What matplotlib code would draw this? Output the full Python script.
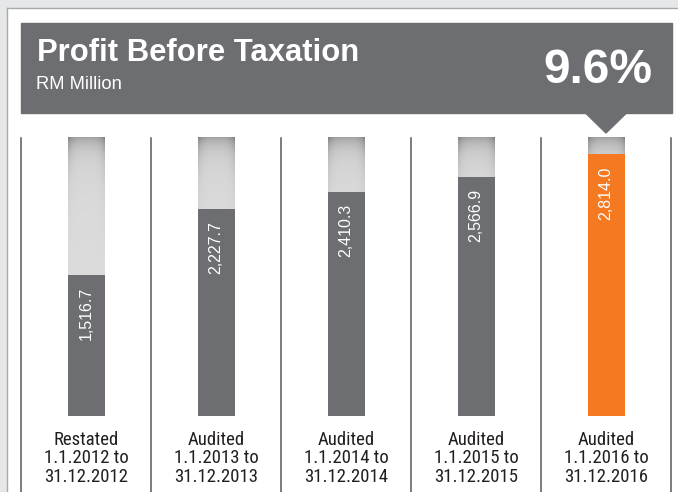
import matplotlib
matplotlib.use("Agg")
import matplotlib.pyplot as plt
import numpy as np
from matplotlib.patches import Rectangle, Polygon
import matplotlib.transforms as mtrans

# data
status = ["Restated", "Audited", "Audited", "Audited", "Audited"]
start = ["1.1.2012", "1.1.2013", "1.1.2014", "1.1.2015", "1.1.2016"]
end = ["31.12.2012", "31.12.2013", "31.12.2014", "31.12.2015", "31.12.2016"]
profit = [1516.7, 2227.7, 2410.3, 2566.9, 2814.0]
scale_max = 3000

grey = "#6d6e71"
orange = "#f47920"
W, H = 678, 492

plt.rcParams['font.family'] = ['Liberation Sans', 'DejaVu Sans']

fig = plt.figure(figsize=(W / 100, H / 100), dpi=100)
fig.patch.set_facecolor("white")

def px(x0, y0, w, h, **kw):
    # rectangle in pixel coords, y measured from top
    return Rectangle((x0 / W, 1 - (y0 + h) / H), w / W, h / H,
                     transform=fig.transFigure, **kw)

# page frame
fig.patches.append(px(0, 0, W, 7, color="#e6e7e8", zorder=0))
fig.patches.append(px(0, 0, 6, H, color="#e6e7e8", zorder=0))
fig.add_artist(plt.Line2D([6.5 / W, 6.5 / W], [0, 1 - 7.5 / H], transform=fig.transFigure, color="#a7a9ac", lw=1))
fig.add_artist(plt.Line2D([6.5 / W, 1], [1 - 7.5 / H, 1 - 7.5 / H], transform=fig.transFigure, color="#a7a9ac", lw=1))

# header box
fig.patches.append(px(21, 23, 651, 90, color=grey, zorder=1))
fig.text(37 / W, 1 - 61 / H, "Profit Before Taxation", color="white",
         fontsize=22.3, fontweight="bold", va="baseline")
fig.text(36 / W, 1 - 89 / H, "RM Million", color="white", fontsize=13.2, va="baseline")
growth = (profit[-1] / profit[-2] - 1) * 100
fig.text(652 / W, 1 - 83 / H, f"{growth:.1f}%", color="white", fontsize=34.5,
         fontweight="bold", ha="right", va="baseline")

# bar axes: 5 columns of 130 px between x=21 and x=671, bars from y=416 up to y=137
ax = fig.add_axes([21 / W, (H - 416) / H, 650 / W, 279 / H])
ax.set_axis_off()
x = np.arange(len(profit))
bw = 37 / 130

# shaded background columns
ny, nx = 280, 40
t = np.arange(ny)[:, None]
u = np.linspace(-1, 1, nx)[None, :]
shade = (0.864 - 0.18 * np.exp(-t / 10) - 0.14 * np.abs(u) ** 4 * np.exp(-t / 35)
         - 0.04 * np.exp(-t / 50))
img = np.clip(np.repeat(shade[:, :, None], 3, axis=2), 0, 1)
for xi in x:
    ax.imshow(img, extent=[xi - bw / 2, xi + bw / 2, 0, scale_max], aspect="auto",
              origin="upper", interpolation="bilinear", zorder=1)

colors = [grey] * (len(profit) - 1) + [orange]
ax.bar(x, profit, width=bw, color=colors, zorder=2)

for xi, v in zip(x, profit):
    ax.annotate(f"{v:,.1f}", xy=(xi, v), xytext=(0, -8.6), textcoords="offset points",
                rotation=90, ha="center", va="top", color="white", fontsize=11.5, zorder=3)
    ax.annotate(f"{status[xi]}\n{start[xi]} to\n{end[xi]}", xy=(xi, 0), xytext=(0, -10.5),
                textcoords="offset points", ha="center", va="top", color="#231f20",
                fontsize=13.5, linespacing=1.06, annotation_clip=False,
                family=['Roboto Condensed', 'Liberation Sans'])

ax.set_xlim(-0.5, len(profit) - 0.5)
ax.set_ylim(0, scale_max)

# column separators
for b in np.arange(-0.5, len(profit), 1.0):
    ax.axvline(b, ymin=-76 / 279, ymax=278 / 279, color="#58595b", lw=1.1, clip_on=False, zorder=0)

# pointer under header, aimed at the latest year
trans = mtrans.blended_transform_factory(ax.transData, fig.transFigure)
xl = x[-1]
half = 21 / 130
tri = Polygon([[xl - half, 1 - 112.5 / H], [xl + half, 1 - 112.5 / H], [xl, 1 - 133 / H]],
              closed=True, transform=trans, color=grey, clip_on=False, zorder=1)
fig.patches.append(tri)

fig.savefig("out.png", dpi=100, facecolor=fig.get_facecolor())
